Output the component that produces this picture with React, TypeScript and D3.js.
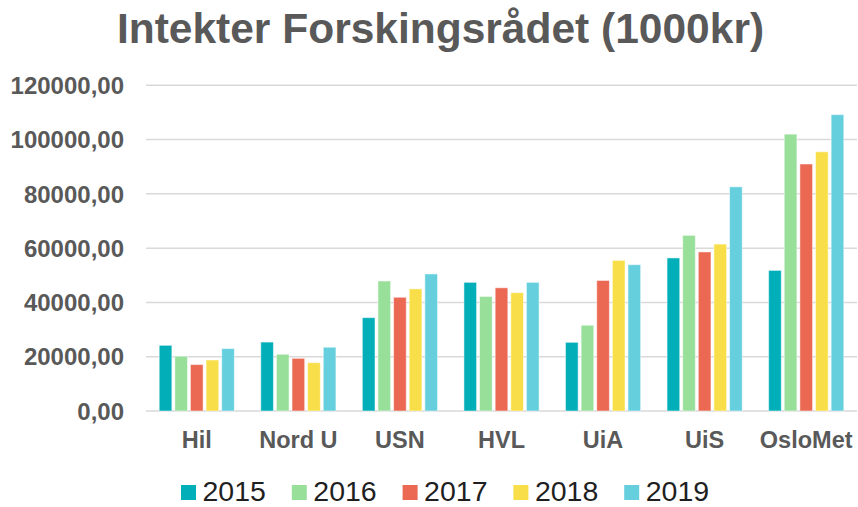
import * as d3 from "d3";

// data (1000 kr)
const universities = ["Hil", "Nord U", "USN", "HVL", "UiA", "UiS", "OsloMet"];
const years = ["2015", "2016", "2017", "2018", "2019"];

const values2015 = [24200, 25400, 34400, 47400, 25300, 56400, 51800];
const values2016 = [20200, 20900, 47900, 42200, 31600, 64700, 102000];
const values2017 = [17100, 19400, 41900, 45400, 48100, 58600, 91000];
const values2018 = [18800, 17800, 45000, 43600, 55500, 61500, 95500];
const values2019 = [23000, 23500, 50500, 47400, 53900, 82600, 109200];

const seriesValues = [values2015, values2016, values2017, values2018, values2019];
const colors = ["#02AFB9", "#98DF9A", "#EB6853", "#F8DE48", "#65CFDE"];
const yTicks = [0, 20000, 40000, 60000, 80000, 100000, 120000];

const width = 858;
const height = 507;
const font = "'Liberation Sans', Arial, sans-serif";

export default function App() {
    const x = d3
        .scaleBand()
        .domain(universities)
        .range([146, 857])
        .paddingInner(0.26)
        .paddingOuter(0.13);

    const xInner = d3
        .scaleBand()
        .domain(years)
        .range([0, x.bandwidth()])
        .paddingInner(0.19);

    const y = d3.scaleLinear().domain([0, 120000]).range([411, 85.3]);

    const fmt = (v: number) => d3.format("d")(v) + ",00";

    return (
        <svg
            width={width}
            height={height}
            style={{ position: "absolute", left: 0, top: 0, background: "#fff" }}
            fontFamily={font}
        >
            <text
                x={440.5}
                y={43}
                textAnchor="middle"
                fontSize={42.5}
                fontWeight="bold"
                fill="#595959"
            >
                Intekter Forskingsrådet (1000kr)
            </text>

            {/* grid + y labels */}
            <g>
                {yTicks.map((t) => (
                    <g key={t}>
                        <line
                            x1={146}
                            x2={857}
                            y1={y(t)}
                            y2={y(t)}
                            stroke="#D9D9D9"
                            strokeWidth={1.5}
                        />
                        <text
                            x={124}
                            y={y(t)}
                            dy="0.36em"
                            textAnchor="end"
                            fontSize={24}
                            fontWeight="bold"
                            fill="#595959"
                        >
                            {fmt(t)}
                        </text>
                    </g>
                ))}
            </g>

            {/* bars */}
            <g>
                {universities.map((u, i) => (
                    <g key={u} transform={`translate(${x(u)},0)`}>
                        {years.map((yr, j) => {
                            const v = seriesValues[j][i];
                            return (
                                <rect
                                    key={yr}
                                    x={xInner(yr)}
                                    y={y(v)}
                                    width={xInner.bandwidth()}
                                    height={y(0) - y(v)}
                                    fill={colors[j]}
                                    stroke="#ffffff"
                                    strokeOpacity={0.5}
                                    strokeWidth={1}
                                />
                            );
                        })}
                    </g>
                ))}
            </g>

            {/* x labels */}
            <g>
                {universities.map((u) => (
                    <text
                        key={u}
                        x={(x(u) ?? 0) + x.bandwidth() / 2}
                        y={448}
                        textAnchor="middle"
                        fontSize={23.5}
                        fontWeight="bold"
                        fill="#595959"
                    >
                        {u}
                    </text>
                ))}
            </g>

            {/* legend */}
            <g>
                {years.map((yr, j) => (
                    <g key={yr} transform={`translate(${181 + j * 110.8},485)`}>
                        <rect width={15} height={15} fill={colors[j]} />
                        <text x={21.5} y={16} fontSize={28.5} fill="#1F1F1F">
                            {yr}
                        </text>
                    </g>
                ))}
            </g>
        </svg>
    );
}
